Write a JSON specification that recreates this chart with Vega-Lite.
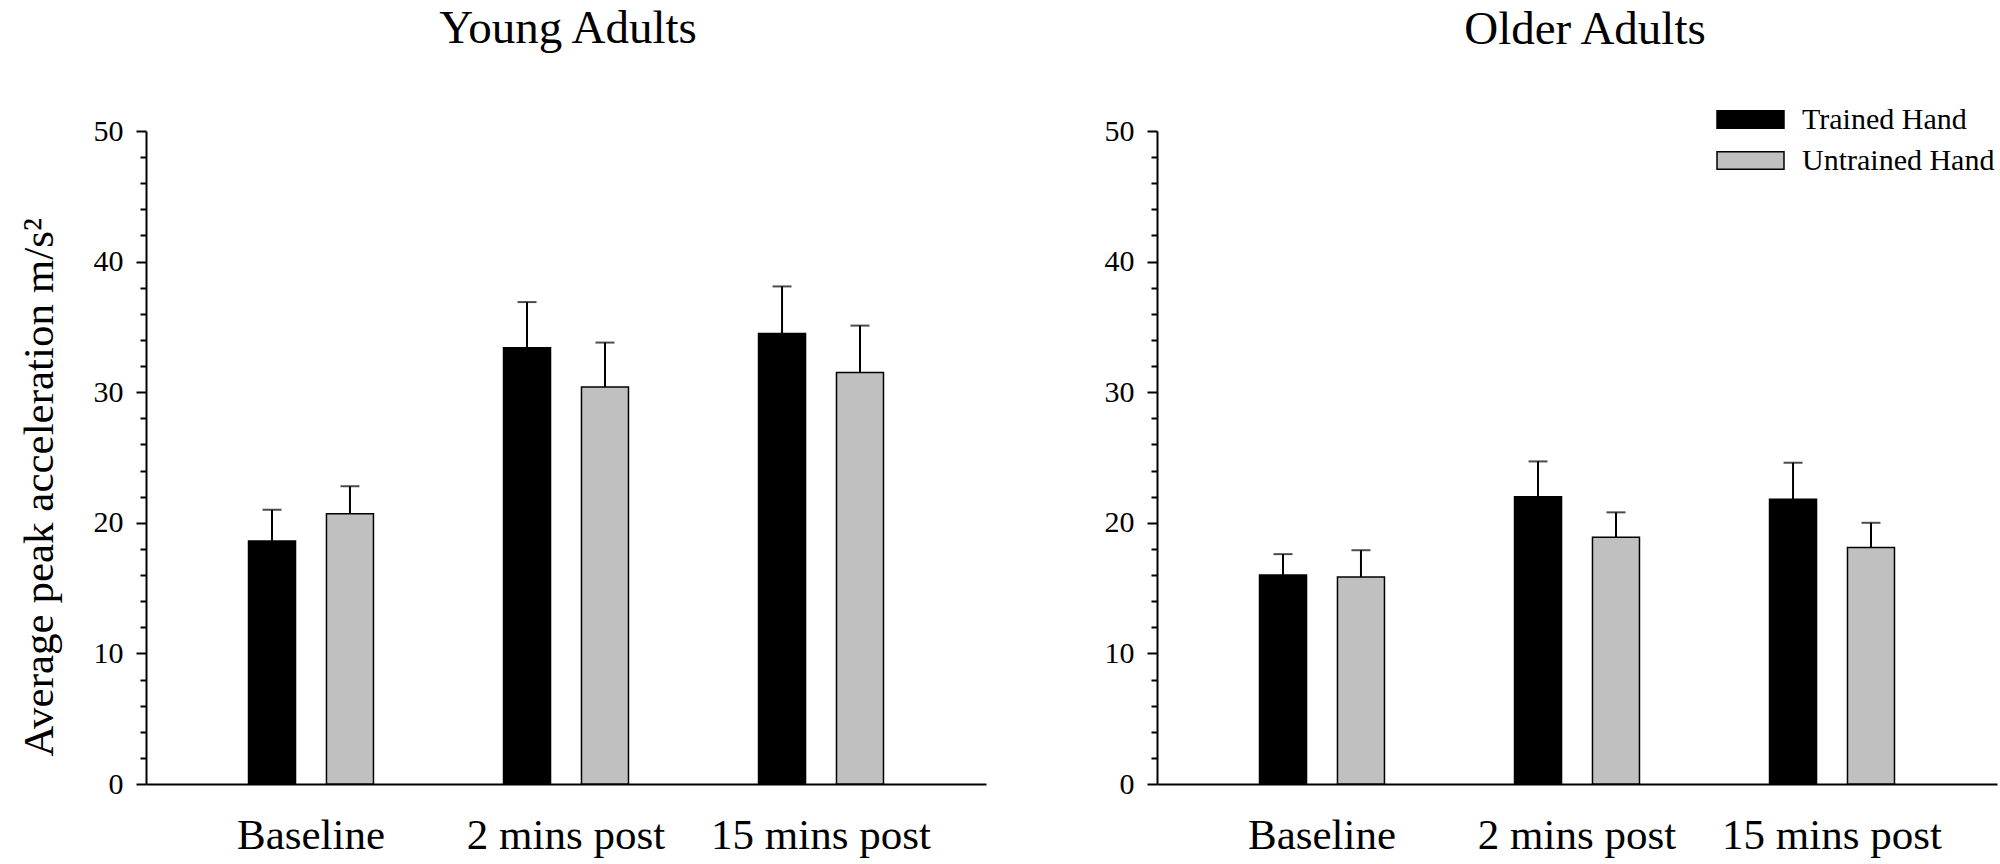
{
  "$schema": "https://vega.github.io/schema/vega-lite/v6.json",
  "background": "white",
  "padding": {"left": 18, "top": 5, "right": 5, "bottom": 5},
  "config": {
    "font": "Liberation Serif",
    "view": {"stroke": null},
    "axis": {"grid": false, "labelColor": "black", "titleColor": "black", "domainColor": "black", "tickColor": "black", "labelFont": "Liberation Serif", "titleFont": "Liberation Serif"},
    "axisY": {"labelOverlap": false, "labelFont": "Liberation Serif", "titleFont": "Liberation Serif", "labelFontSize": 30, "titleFontSize": 43}
  },
  "data": {
    "values": [
      {"group": "Young", "time": "Baseline", "hand": "Trained Hand", "value": 18.6, "upper": 21.0},
      {"group": "Young", "time": "Baseline", "hand": "Untrained Hand", "value": 20.7, "upper": 22.8},
      {"group": "Young", "time": "2 mins post", "hand": "Trained Hand", "value": 33.4, "upper": 36.9},
      {"group": "Young", "time": "2 mins post", "hand": "Untrained Hand", "value": 30.4, "upper": 33.8},
      {"group": "Young", "time": "15 mins post", "hand": "Trained Hand", "value": 34.5, "upper": 38.1},
      {"group": "Young", "time": "15 mins post", "hand": "Untrained Hand", "value": 31.5, "upper": 35.1},
      {"group": "Older", "time": "Baseline", "hand": "Trained Hand", "value": 16.0, "upper": 17.6},
      {"group": "Older", "time": "Baseline", "hand": "Untrained Hand", "value": 15.85, "upper": 17.9},
      {"group": "Older", "time": "2 mins post", "hand": "Trained Hand", "value": 22.0, "upper": 24.7},
      {"group": "Older", "time": "2 mins post", "hand": "Untrained Hand", "value": 18.9, "upper": 20.8},
      {"group": "Older", "time": "15 mins post", "hand": "Trained Hand", "value": 21.8, "upper": 24.6},
      {"group": "Older", "time": "15 mins post", "hand": "Untrained Hand", "value": 18.1, "upper": 20.0}
    ]
  },
  "spacing": 118,
  "resolve": {"legend": {"fill": "independent"}},
  "hconcat": [
    {
      "title": {"text": "Young Adults", "fontSize": 47, "font": "Liberation Serif", "fontWeight": "normal", "offset": 63, "anchor": "middle", "frame": "group", "dx": 2, "color": "black"},
      "width": 840,
      "height": 653,
      "transform": [{"filter": "datum.group === 'Young'"}],
      "encoding": {
        "x": {"field": "time", "type": "nominal", "sort": ["Baseline", "2 mins post", "15 mins post"],
              "scale": {"paddingInner": 0.51, "paddingOuter": 0.402},
              "axis": {"title": null, "labelAngle": 0, "labelFontSize": 43, "labelFont": "Liberation Serif", "labelLimit": 400, "ticks": false, "domainWidth": 2, "labelPadding": 30}},
        "xOffset": {"field": "hand", "type": "nominal", "sort": ["Trained Hand", "Untrained Hand"], "scale": {"paddingInner": 0.397, "paddingOuter": 0}}
      },
      "layer": [
        {
          "mark": {"type": "bar", "stroke": "black", "strokeWidth": 1.5},
          "encoding": {
            "y": {"field": "value", "type": "quantitative", "scale": {"domain": [0, 50], "nice": false},
                  "axis": {"values": [0,2,4,6,8,10,12,14,16,18,20,22,24,26,28,30,32,34,36,38,40,42,44,46,48,50],
                           "labelExpr": "datum.value % 10 === 0 ? datum.label : ''",
                           "labelOverlap": false,
                           "tickSize": {"condition": {"test": "datum.value % 10 === 0", "value": 10}, "value": 6},
                           "tickWidth": 2, "domainWidth": 2, "labelFontSize": 30, "labelFont": "Liberation Serif", "labelPadding": 13,
                           "title": "Average peak acceleration m/s²", "titleFont": "Liberation Serif", "titleFontSize": 43, "titleFontWeight": "normal", "titlePadding": 32, "titleY": 356}},
            "fill": {"field": "hand", "type": "nominal", "scale": {"domain": ["Trained Hand", "Untrained Hand"], "range": ["#000000", "#c0c0c0"]}, "legend": null}
          }
        },
        {
          "mark": {"type": "rule", "strokeWidth": 2, "color": "black"},
          "encoding": {
            "y": {"field": "upper", "type": "quantitative", "scale": {"domain": [0, 50], "nice": false},
                  "axis": {"values": [0,2,4,6,8,10,12,14,16,18,20,22,24,26,28,30,32,34,36,38,40,42,44,46,48,50],
                           "labelExpr": "datum.value % 10 === 0 ? datum.label : ''",
                           "labelOverlap": false,
                           "tickSize": {"condition": {"test": "datum.value % 10 === 0", "value": 10}, "value": 6},
                           "tickWidth": 2, "domainWidth": 2, "labelFontSize": 30, "labelFont": "Liberation Serif", "labelPadding": 13,
                           "title": "Average peak acceleration m/s²", "titleFont": "Liberation Serif", "titleFontSize": 43, "titleFontWeight": "normal", "titlePadding": 32, "titleY": 356}},
            "y2": {"field": "value"}
          }
        },
        {
          "mark": {"type": "tick", "orient": "horizontal", "size": 19, "thickness": 2, "color": "black"},
          "encoding": {
            "y": {"field": "upper", "type": "quantitative", "scale": {"domain": [0, 50], "nice": false},
                  "axis": {"values": [0,2,4,6,8,10,12,14,16,18,20,22,24,26,28,30,32,34,36,38,40,42,44,46,48,50],
                           "labelExpr": "datum.value % 10 === 0 ? datum.label : ''",
                           "labelOverlap": false,
                           "tickSize": {"condition": {"test": "datum.value % 10 === 0", "value": 10}, "value": 6},
                           "tickWidth": 2, "domainWidth": 2, "labelFontSize": 30, "labelFont": "Liberation Serif", "labelPadding": 13,
                           "title": "Average peak acceleration m/s²", "titleFont": "Liberation Serif", "titleFontSize": 43, "titleFontWeight": "normal", "titlePadding": 32, "titleY": 356}}
          }
        }
      ]
    },
    {
      "title": {"text": "Older Adults", "fontSize": 47, "font": "Liberation Serif", "fontWeight": "normal", "offset": 48, "anchor": "middle", "frame": "group", "dx": 8, "color": "black"},
      "width": 840,
      "height": 653,
      "transform": [{"filter": "datum.group === 'Older'"}],
      "encoding": {
        "x": {"field": "time", "type": "nominal", "sort": ["Baseline", "2 mins post", "15 mins post"],
              "scale": {"paddingInner": 0.51, "paddingOuter": 0.402},
              "axis": {"title": null, "labelAngle": 0, "labelFontSize": 43, "labelFont": "Liberation Serif", "labelLimit": 400, "ticks": false, "domainWidth": 2, "labelPadding": 30}},
        "xOffset": {"field": "hand", "type": "nominal", "sort": ["Trained Hand", "Untrained Hand"], "scale": {"paddingInner": 0.397, "paddingOuter": 0}}
      },
      "layer": [
        {
          "mark": {"type": "bar", "stroke": "black", "strokeWidth": 1.5},
          "encoding": {
            "y": {"field": "value", "type": "quantitative", "scale": {"domain": [0, 50], "nice": false},
                  "axis": {"values": [0,2,4,6,8,10,12,14,16,18,20,22,24,26,28,30,32,34,36,38,40,42,44,46,48,50],
                           "labelExpr": "datum.value % 10 === 0 ? datum.label : ''",
                           "labelOverlap": false,
                           "tickSize": {"condition": {"test": "datum.value % 10 === 0", "value": 10}, "value": 6},
                           "tickWidth": 2, "domainWidth": 2, "labelFontSize": 30, "labelFont": "Liberation Serif", "labelPadding": 13,
                           "title": null}},
            "fill": {"field": "hand", "type": "nominal", "scale": {"domain": ["Trained Hand", "Untrained Hand"], "range": ["#000000", "#c0c0c0"]},
                     "legend": {"orient": "none", "legendX": 576, "legendY": -29, "title": null,
                                "symbolType": "M-2,-0.52H2V0.52H-2Z", "symbolSize": 1122,
                                "symbolStrokeColor": "black", "symbolStrokeWidth": 1.5,
                                "labelFontSize": 30, "labelFont": "Liberation Serif", "labelColor": "black", "labelOffset": 34, "labelLimit": 400, "rowPadding": 8}}
          }
        },
        {
          "mark": {"type": "rule", "strokeWidth": 2, "color": "black"},
          "encoding": {
            "y": {"field": "upper", "type": "quantitative", "scale": {"domain": [0, 50], "nice": false},
                  "axis": {"values": [0,2,4,6,8,10,12,14,16,18,20,22,24,26,28,30,32,34,36,38,40,42,44,46,48,50],
                           "labelExpr": "datum.value % 10 === 0 ? datum.label : ''",
                           "labelOverlap": false,
                           "tickSize": {"condition": {"test": "datum.value % 10 === 0", "value": 10}, "value": 6},
                           "tickWidth": 2, "domainWidth": 2, "labelFontSize": 30, "labelFont": "Liberation Serif", "labelPadding": 13,
                           "title": null}},
            "y2": {"field": "value"}
          }
        },
        {
          "mark": {"type": "tick", "orient": "horizontal", "size": 19, "thickness": 2, "color": "black"},
          "encoding": {
            "y": {"field": "upper", "type": "quantitative", "scale": {"domain": [0, 50], "nice": false},
                  "axis": {"values": [0,2,4,6,8,10,12,14,16,18,20,22,24,26,28,30,32,34,36,38,40,42,44,46,48,50],
                           "labelExpr": "datum.value % 10 === 0 ? datum.label : ''",
                           "labelOverlap": false,
                           "tickSize": {"condition": {"test": "datum.value % 10 === 0", "value": 10}, "value": 6},
                           "tickWidth": 2, "domainWidth": 2, "labelFontSize": 30, "labelFont": "Liberation Serif", "labelPadding": 13,
                           "title": null}}
          }
        }
      ]
    }
  ]
}
